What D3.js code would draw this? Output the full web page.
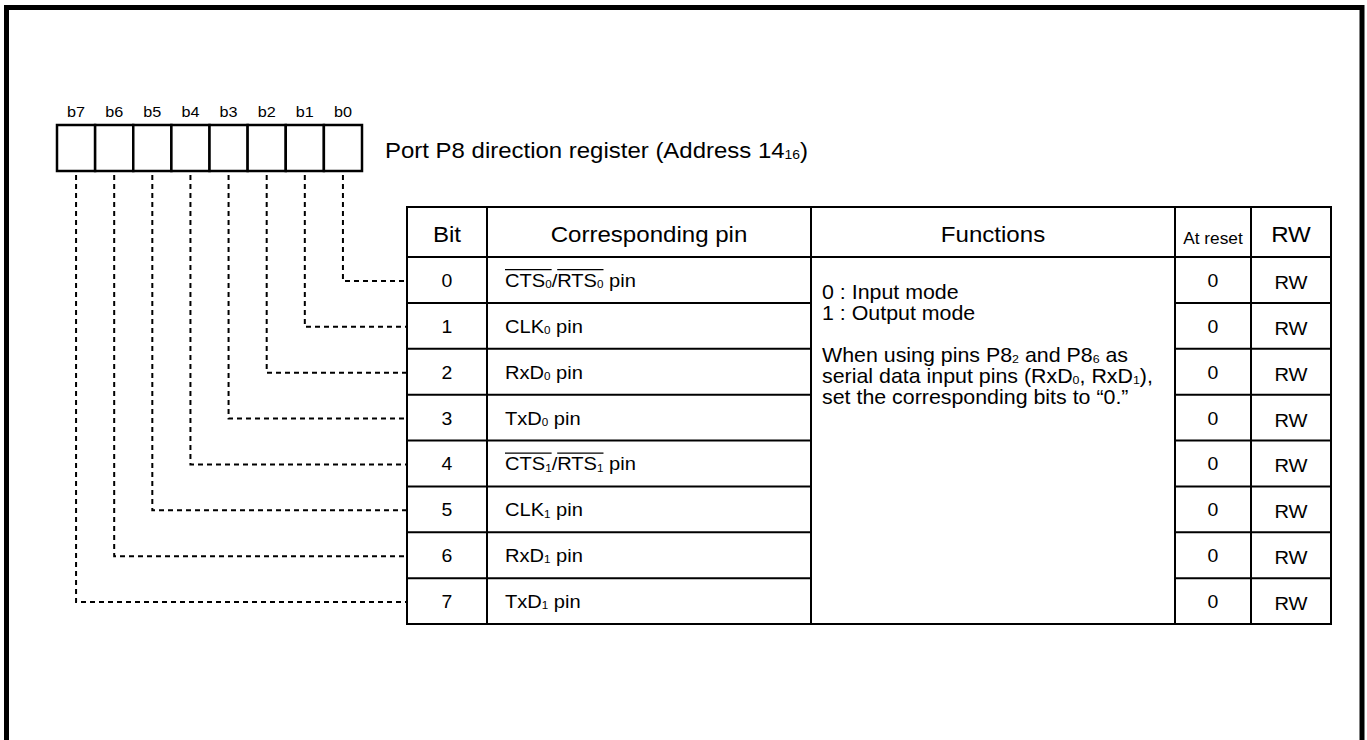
<!DOCTYPE html>
<html><head><meta charset="utf-8">
<script src="https://cdn.jsdelivr.net/npm/d3@7"></script>
<style>html,body{margin:0;padding:0;background:#fff;} svg{display:block;font-family:"Liberation Sans",Arial,sans-serif;}</style>
</head><body><svg id="c" width="1367" height="740"></svg>
<script>
// ---- data ----
const bitLabels = ["b7","b6","b5","b4","b3","b2","b1","b0"];
const bits = [0,1,2,3,4,5,6,7];
const pins = [
  "o:CTS|os:0|/|o:RTS|os:0| pin",
  "CLK|s:0| pin",
  "RxD|s:0| pin",
  "TxD|s:0| pin",
  "o:CTS|os:1|/|o:RTS|os:1| pin",
  "CLK|s:1| pin",
  "RxD|s:1| pin",
  "TxD|s:1| pin"
];
const resetValues = ["0","0","0","0","0","0","0","0"];
const rwValues = ["RW","RW","RW","RW","RW","RW","RW","RW"];
const headers = ["Bit","Corresponding pin","Functions","At reset","RW"];
const title = "Port P8 direction register (Address 14|s:16|)";
const functionLines = [
  "0 : Input mode",
  "1 : Output mode",
  "",
  "When using pins P8|s:2| and P8|s:6| as",
  "serial data input pins (RxD|s:0|, RxD|s:1|),",
  "set the corresponding bits to \u201C0.\u201D"
];

// ---- layout ----
const SX = 1.08;
const svg = d3.select("#c");
const cols = [407, 487, 811, 1175, 1251, 1331];
const tableTop = 207, headBottom = 257, tableBottom = 624;
const rowY = d3.scaleBand().domain(bits).range([headBottom, tableBottom]);
const regX = d3.scaleBand().domain(bitLabels).range([57, 362]);
const regTop = 125, regBottom = 171;

function parse(m) {
  return m.split("|").map(s => {
    const r = /^(o|s|os):(.*)$/.exec(s);
    if (r) return {text: r[2], over: r[1].includes("o"), sub: r[1].includes("s")};
    return {text: s, over: false, sub: false};
  });
}
function richText(parent, x, y, markup, size, anchor) {
  const g = parent.append("g").attr("transform", `translate(${x},${y}) scale(${SX},1)`);
  const t = g.append("text").attr("font-size", size).attr("text-anchor", anchor || "start").attr("fill", "#000");
  const segs = parse(markup);
  let idx = 0, shifted = false; const ranges = [];
  const sdy = 1.2;
  segs.forEach(s => {
    if (!s.text.length) return;
    const ts = t.append("tspan").text(s.text);
    if (s.sub) ts.attr("font-size", size * 0.58);
    if (s.sub && !shifted) { ts.attr("dy", sdy); shifted = true; }
    else if (!s.sub && shifted) { ts.attr("dy", -sdy); shifted = false; }
    if (s.over) {
      const last = ranges[ranges.length - 1];
      if (last && last[1] === idx - 1) last[1] = idx + s.text.length - 1;
      else ranges.push([idx, idx + s.text.length - 1]);
    }
    idx += s.text.length;
  });
  ranges.forEach(([a, b]) => {
    const ea = t.node().getExtentOfChar(a), eb = t.node().getExtentOfChar(b);
    g.append("line").attr("x1", ea.x).attr("x2", eb.x + eb.width)
      .attr("y1", -size * 0.93).attr("y2", -size * 0.93)
      .attr("stroke", "#000").attr("stroke-width", 1.1);
  });
  return g;
}

// outer frame
svg.append("rect").attr("x", 6.5).attr("y", 7.5).attr("width", 1355.5).attr("height", 800)
  .attr("fill", "none").attr("stroke", "#000").attr("stroke-width", 5);

// bit labels + register cells
bitLabels.forEach(b => {
  richText(svg, regX(b) + regX.bandwidth() / 2, 117, b, 15, "middle");
});
svg.append("g").selectAll("rect").data(bitLabels).join("rect")
  .attr("x", d => regX(d)).attr("y", regTop).attr("width", regX.bandwidth()).attr("height", regBottom - regTop)
  .attr("fill", "#fff").attr("stroke", "#000").attr("stroke-width", 2.5);

richText(svg, 385, 158, title, 22.2, "start");

// dashed connectors
const conn = svg.append("g").attr("fill", "none").attr("stroke", "#000").attr("stroke-width", 2).attr("stroke-dasharray", "5,4");
bits.forEach(i => {
  const lab = "b" + i;
  const x = regX(lab) + regX.bandwidth() / 2;
  const y = rowY(i) + rowY.bandwidth() / 2 + 1;
  conn.append("path").attr("d", `M${x},${regBottom + 4}V${y}H${cols[0]}`);
});

// table
const tg = svg.append("g");
tg.append("rect").attr("x", cols[0]).attr("y", tableTop).attr("width", cols[5] - cols[0]).attr("height", tableBottom - tableTop)
  .attr("fill", "#fff").attr("stroke", "#000").attr("stroke-width", 2);
cols.slice(1, 5).forEach(x => {
  tg.append("line").attr("x1", x).attr("x2", x).attr("y1", tableTop).attr("y2", tableBottom).attr("stroke", "#000").attr("stroke-width", 2);
});
tg.append("line").attr("x1", cols[0]).attr("x2", cols[5]).attr("y1", headBottom).attr("y2", headBottom).attr("stroke", "#000").attr("stroke-width", 2);
bits.slice(1).forEach(i => {
  [[cols[0], cols[2]], [cols[3], cols[5]]].forEach(([a, b]) => {
    tg.append("line").attr("x1", a).attr("x2", b).attr("y1", rowY(i)).attr("y2", rowY(i)).attr("stroke", "#000").attr("stroke-width", 2);
  });
});

// headers
headers.forEach((h, k) => {
  const cx = (cols[k] + cols[k + 1]) / 2;
  if (h === "At reset") richText(tg, cx, 244, h, 16, "middle");
  else richText(tg, cx, 242, h, 22.3, "middle");
});

// rows
bits.forEach(i => {
  const cy = rowY(i) + rowY.bandwidth() / 2;
  richText(tg, (cols[0] + cols[1]) / 2, cy + 7, String(bits[i]), 18, "middle");
  richText(tg, 505, cy + 7, pins[i], 18.6, "start");
  richText(tg, (cols[3] + cols[4]) / 2, cy + 7, resetValues[i], 18, "middle");
  richText(tg, (cols[4] + cols[5]) / 2, cy + 9, rwValues[i], 18.6, "middle");
});

// functions text
functionLines.forEach((l, k) => {
  if (l) richText(tg, 822, 299 + k * 21, l, 19.8, "start");
});
</script></body></html>
